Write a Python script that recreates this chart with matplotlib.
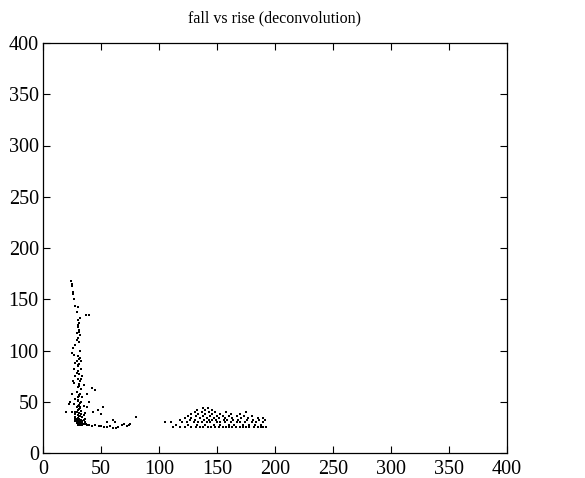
import matplotlib
matplotlib.use("Agg")
import matplotlib.pyplot as plt

title = "fall vs rise (deconvolution)"
ticks = [0, 50, 100, 150, 200, 250, 300, 350, 400]

# cluster 1 (steep band near rise ~ 25-35)
c1_x = [24, 25, 25, 26, 26, 27, 28, 30, 29, 37, 40,
        30, 31, 30, 31, 29, 32, 30, 31, 28, 26, 25, 27, 30, 32, 29, 33, 31, 30, 27, 33, 30, 31, 28, 34,
        30, 32, 27, 31, 35, 30, 33, 42, 45, 29, 32, 25, 31, 34, 28, 30, 33, 22, 27, 31, 35, 29, 32, 38,
        30, 33, 25, 28, 31, 36, 30, 32, 34, 28, 29, 31, 33, 35, 28, 30, 32, 34, 36, 29, 31, 33, 35, 37,
        30, 32, 34, 38, 40, 42, 45, 48, 50, 53, 55, 58, 60, 63, 65, 68, 70, 72, 74, 75, 80, 47, 50, 52,
        55, 60, 62, 40, 43, 38, 20, 23, 26, 28, 32, 29, 31, 30, 32, 31, 30, 29, 33, 31, 30, 32, 28, 30,
        29, 31, 33, 30, 32, 34, 28, 30, 31, 33, 29, 31, 30, 32, 35, 36, 34, 33, 30, 31]
c1_y = [168, 165, 163, 157, 155, 150, 143, 142, 138, 135, 135,
        130, 127, 123, 120, 117, 115, 112, 108, 105, 102, 98, 96, 95, 93, 90, 90, 87, 85, 82, 82, 80, 77, 75, 75,
        72, 70, 68, 67, 66, 64, 62, 63, 61, 60, 58, 58, 56, 55, 53, 51, 50, 48, 48, 47, 46, 45, 44, 45,
        42, 41, 40, 40, 39, 39, 37, 36, 35, 35, 33, 33, 32, 32, 31, 30, 30, 30, 30, 29, 28, 28, 28, 28,
        27, 27, 27, 27, 27, 26, 27, 26, 26, 25, 25, 26, 24, 24, 25, 27, 28, 26, 27, 28, 35, 42, 38, 45,
        30, 32, 30, 50, 40, 58, 40, 50, 70, 88, 100, 110, 118, 125, 132, 92, 86, 78, 72, 65, 55, 45, 38, 34,
        31, 31, 30, 29, 29, 29, 33, 34, 36, 38, 40, 43, 46, 49, 37, 33, 31, 29, 52, 57]

# cluster 2 (broad band at rise ~ 105-192)
c2_x = [112, 118, 122, 128, 132, 135, 138, 142, 145, 148, 152, 155, 158, 160, 163, 166, 170, 172, 175, 178, 182, 185, 188, 190, 192,
        115, 125, 133, 140, 147, 153, 160, 165, 172, 178, 183, 188,
        105, 110, 120, 124, 130, 134, 137, 141, 144, 150, 153, 157, 162, 167, 170, 174, 180, 184, 190,
        118, 127, 131, 139, 143, 146, 149, 156, 159, 164, 168, 176, 181, 186, 191,
        122, 128, 135, 141, 147, 152, 157, 163, 171, 177, 185, 190,
        125, 132, 138, 144, 150, 155, 160, 167, 173, 180,
        128, 134, 140, 146, 153, 162, 170,
        131, 137, 143, 148, 158, 175,
        133, 140, 146,
        138, 142]
c2_y = [25] * 25 + [27] * 12 + [30] * 19 + [32] * 15 + [34] * 12 + [36] * 10 + [38] * 7 + [40] * 6 + [42] * 3 + [44] * 2

plt.rcParams['font.family'] = ['Liberation Serif', 'DejaVu Serif']

fig = plt.figure(figsize=(5.85, 4.78), dpi=100)
ax = fig.add_axes([43 / 585, 25 / 478, 464 / 585, 410 / 478])
ax.plot(c1_x, c1_y, linestyle='none', marker='s', markersize=1.5,
        markeredgewidth=0, color='black')
ax.plot(c2_x, c2_y, linestyle='none', marker='s', markersize=1.5,
        markeredgewidth=0, color='black')
ax.set_xlim(0, 400)
ax.set_ylim(0, 400)
ax.set_xticks(ticks)
ax.set_yticks(ticks)
ax.tick_params(direction='in', top=True, right=True, length=5, width=0.8,
               labelsize=14.5)
ax.tick_params(axis='x', pad=5)
ax.tick_params(axis='y', pad=3)
for s in ax.spines.values():
    s.set_linewidth(0.9)
ax.set_title(title, fontsize=11.5, pad=15)
fig.savefig("out.png", dpi=100)
